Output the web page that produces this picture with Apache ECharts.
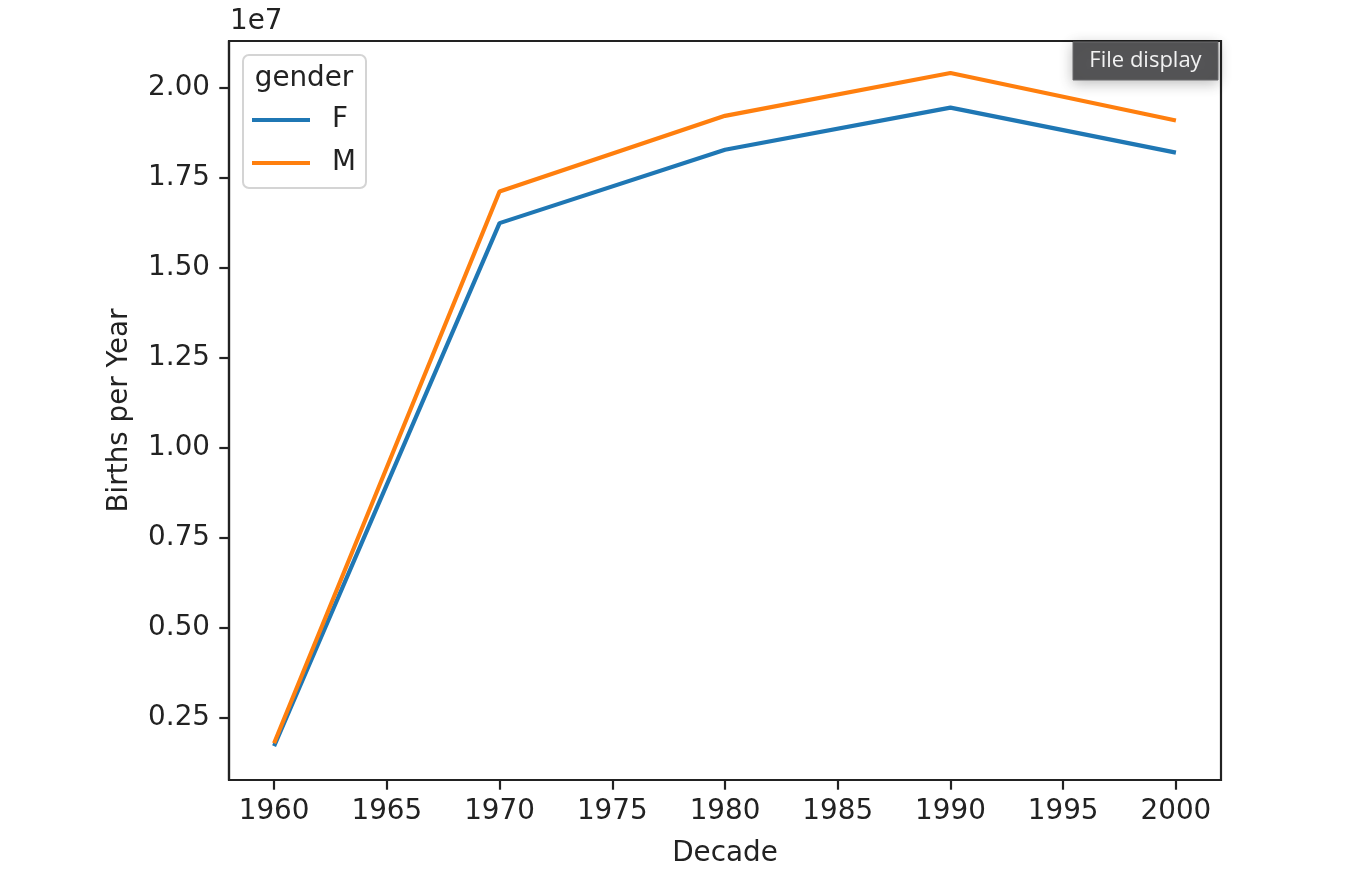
<!DOCTYPE html>
<html>
<head>
<meta charset="utf-8">
<script src="https://cdn.jsdelivr.net/npm/echarts@6/dist/echarts.min.js"></script>
<style>
  html, body { margin: 0; padding: 0; background: #fff; }
  #chart { width: 1368px; height: 878px; }
</style>
</head>
<body>
<div id="chart"></div>
<script>
// births per year by decade (raw counts)
const decades = [1960, 1970, 1980, 1990, 2000];
const birthsF = [1720000, 16250000, 18290000, 19460000, 18210000];
const birthsM = [1800000, 17130000, 19230000, 20420000, 19100000];
const xTicks = [1960, 1965, 1970, 1975, 1980, 1985, 1990, 1995, 2000];
const yTicks = [2500000, 5000000, 7500000, 10000000, 12500000, 15000000, 17500000, 20000000];

const FONT = "'DejaVu Sans', sans-serif";
const INK = '#222';
const FS = 27.8;

const chart = echarts.init(document.getElementById('chart'), null, { renderer: 'canvas' });

const pairs = (ys) => decades.map((d, i) => [d, ys[i]]);

chart.setOption({
  animation: false,
  backgroundColor: '#fff',
  textStyle: { fontFamily: FONT },
  grid: {
    left: 229, right: 147, top: 41, bottom: 98,
    show: true, borderColor: INK, borderWidth: 2.2, backgroundColor: 'transparent'
  },
  xAxis: {
    type: 'value',
    min: 1958, max: 2002,
    name: 'Decade',
    nameLocation: 'middle',
    nameGap: 60,
    nameTextStyle: { color: INK, fontSize: FS, fontFamily: FONT },
    axisLine: { show: true, lineStyle: { color: INK, width: 2.2 } },
    axisTick: { show: true, length: 9.7, lineStyle: { color: INK, width: 2.2 }, customValues: xTicks },
    axisLabel: {
      color: INK, fontSize: FS, fontFamily: FONT, margin: 18, customValues: xTicks,
      formatter: (v) => String(v)
    },
    splitLine: { show: false }
  },
  yAxis: {
    type: 'value',
    min: 778000, max: 21310000,
    name: 'Births per Year',
    nameLocation: 'middle',
    nameGap: 95,
    nameTextStyle: { color: INK, fontSize: FS, fontFamily: FONT },
    axisLine: { show: true, lineStyle: { color: INK, width: 2.2 } },
    axisTick: { show: true, length: 9.7, lineStyle: { color: INK, width: 2.2 }, customValues: yTicks },
    axisLabel: {
      color: INK, fontSize: FS, fontFamily: FONT, margin: 19, customValues: yTicks,
      padding: [5, 0, 0, 0],
      formatter: (v) => (v / 1e7).toFixed(2)
    },
    splitLine: { show: false }
  },
  legend: {
    data: ['F', 'M'],
    orient: 'vertical',
    left: 252, top: 105,
    padding: 0,
    itemGap: 13,
    icon: 'rect',
    itemWidth: 58, itemHeight: 4,
    textStyle: { color: INK, fontSize: FS, fontFamily: FONT, lineHeight: 30, padding: [0, 0, 0, 17] }
  },
  graphic: [
    {
      type: 'rect', z: 0, silent: true,
      shape: { x: 243, y: 55, width: 123, height: 133, r: 6 },
      style: { fill: 'rgba(255,255,255,0.8)', stroke: '#d4d4d4', lineWidth: 2 }
    },
    {
      type: 'text', z: 1, silent: true,
      x: 304, y: 79,
      style: { text: 'gender', fill: INK, font: `${FS}px ${FONT}`, align: 'center', verticalAlign: 'middle' }
    },
    {
      type: 'text', z: 1, silent: true,
      x: 230, y: 22,
      style: { text: '1e7', fill: INK, font: `${FS}px ${FONT}`, align: 'left', verticalAlign: 'middle' }
    },
    {
      type: 'rect', z: 10, silent: true,
      shape: { x: 1073, y: 42, width: 145, height: 38 },
      style: {
        fill: '#545456', stroke: '#6a6a6c', lineWidth: 1,
        shadowBlur: 14, shadowColor: 'rgba(0,0,0,0.25)', shadowOffsetY: 3
      }
    },
    {
      type: 'text', z: 11, silent: true,
      x: 1145.5, y: 61,
      style: { text: 'File display', fill: '#f2f2f2', font: "22px 'Open Sans', sans-serif", align: 'center', verticalAlign: 'middle' }
    }
  ],
  series: [
    {
      name: 'F', type: 'line', data: pairs(birthsF),
      showSymbol: false, symbol: 'none',
      color: '#1f77b4',
      lineStyle: { color: '#1f77b4', width: 4.2 }
    },
    {
      name: 'M', type: 'line', data: pairs(birthsM),
      showSymbol: false, symbol: 'none',
      color: '#ff7f0e',
      lineStyle: { color: '#ff7f0e', width: 4.2 }
    }
  ]
});
</script>
</body>
</html>
